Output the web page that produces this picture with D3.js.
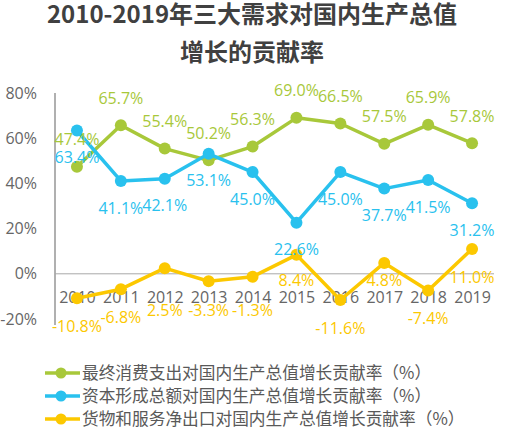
<!DOCTYPE html>
<html>
<head>
<meta charset="utf-8">
<script src="https://cdn.jsdelivr.net/npm/d3@7"></script>
<style>
  body { margin: 0; background: #fff; }
  svg text { font-family: "Open Sans", "Noto Sans CJK SC", sans-serif; }
</style>
</head>
<body>
<div id="container"></div>
<script>
const w = 514;
const h = 429;

// data
let years = ["2010", "2011", "2012", "2013", "2014", "2015", "2016", "2017", "2018", "2019"];
let consumption = [47.4, 65.7, 55.4, 50.2, 56.3, 69.0, 66.5, 57.5, 65.9, 57.8];
let capital = [63.4, 41.1, 42.1, 53.1, 45.0, 22.6, 45.0, 37.7, 41.5, 31.2];
let netExports = [-10.8, -6.8, 2.5, -3.3, -1.3, 8.4, -11.6, 4.8, -7.4, 11.0];
let yTicks = [-20, 0, 20, 40, 60, 80];

let seriesNames = [
  "最终消费支出对国内生产总值增长贡献率（%）",
  "资本形成总额对国内生产总值增长贡献率（%）",
  "货物和服务净出口对国内生产总值增长贡献率（%）"
];
let seriesColors = ["#a8c83a", "#29c1ee", "#fcc800"];

let series = [
  { name: seriesNames[0], values: consumption, color: seriesColors[0], labelDy: -27 },
  { name: seriesNames[1], values: capital, color: seriesColors[1], labelDy: 27 },
  { name: seriesNames[2], values: netExports, color: seriesColors[2], labelDy: 28 }
];

let viz = d3.select("#container").append("svg").attr("width", w).attr("height", h);

// title
let title = viz.append("g").attr("font-weight", "bold").attr("fill", "#404040")
  .attr("text-anchor", "middle").style("font-size", "24px");
title.append("text").attr("x", 252).attr("y", 15).attr("dy", "0.35em")
  .style("font-family", "'Noto Sans CJK SC', sans-serif")
  .text("2010-2019年三大需求对国内生产总值");
title.append("text").attr("x", 252).attr("y", 53).attr("dy", "0.35em")
  .style("font-family", "'Noto Sans CJK SC', sans-serif")
  .text("增长的贡献率");

// scales
let xScale = d3.scalePoint().domain(years).range([55, 494]).padding(0.5);
let yScale = d3.scaleLinear().domain([-20, 80]).range([319, 93]);

// y axis
let yAxis = d3.axisLeft(yScale).tickValues(yTicks).tickSize(0).tickPadding(18)
  .tickFormat(function(d){ return d + "%"; });
let yAxisGroup = viz.append("g").attr("class", "yaxis")
  .attr("transform", "translate(55,0)").call(yAxis);
yAxisGroup.select(".domain").remove();
yAxisGroup.selectAll("text").attr("fill", "#666").style("font-size", "16px");
viz.append("line").attr("x1", 55).attr("x2", 55)
  .attr("y1", yScale(80)).attr("y2", yScale(-20) + 6)
  .attr("stroke", "#b0b0b0").attr("stroke-width", 2);

// zero line
viz.append("line").attr("x1", 55).attr("x2", 494)
  .attr("y1", yScale(0)).attr("y2", yScale(0))
  .attr("stroke", "#a8a8a8").attr("stroke-width", 1);

// x axis labels
let xLabelY = yScale(0) + 24;
let xAxis = d3.axisBottom(xScale).tickSize(0).tickPadding(0);
let xAxisGroup = viz.append("g").attr("class", "xaxis")
  .attr("transform", "translate(0," + xLabelY + ")").call(xAxis);
xAxisGroup.select(".domain").remove();
xAxisGroup.selectAll("text").attr("dy", "0.35em").attr("fill", "#666").style("font-size", "16px");

// lines and points
let line = d3.line()
  .x(function(d, i){ return xScale(years[i]); })
  .y(function(d){ return yScale(d); });

series.forEach(function(s){
  viz.append("path").datum(s.values)
    .attr("d", line).attr("fill", "none")
    .attr("stroke", s.color).attr("stroke-width", 3.5)
    .attr("stroke-linejoin", "round");

  viz.selectAll(null).data(s.values).enter().append("circle")
    .attr("cx", function(d, i){ return xScale(years[i]); })
    .attr("cy", function(d){ return yScale(d); })
    .attr("r", 6).attr("fill", s.color);
});

// value labels, drawn after the lines; below-labels are moved off the year labels
let slotAbove = xLabelY - 17;
let slotBelow = xLabelY + 13;
function labelY(d, s){
  let y = yScale(d) + s.labelDy;
  if (s.labelDy > 0 && y > slotAbove && y < slotBelow) {
    y = (y < xLabelY - 4) ? slotAbove : slotBelow;
  }
  return y;
}

series.forEach(function(s){
  viz.selectAll(null).data(s.values).enter().append("text")
    .attr("x", function(d, i){ return xScale(years[i]); })
    .attr("y", function(d){ return labelY(d, s); })
    .attr("dy", "0.35em")
    .attr("text-anchor", "middle")
    .attr("fill", s.color)
    .style("font-size", "16px")
    .text(function(d){ return d.toFixed(1) + "%"; });
});

// legend
let legend = viz.append("g").attr("class", "legend");
series.forEach(function(s, i){
  let y = 373 + i * 23;
  legend.append("line").attr("x1", 45).attr("x2", 80).attr("y1", y).attr("y2", y)
    .attr("stroke", s.color).attr("stroke-width", 3.5);
  legend.append("circle").attr("cx", 61).attr("cy", y).attr("r", 5.5).attr("fill", s.color);
  legend.append("text").attr("x", 82).attr("y", y).attr("dy", "0.35em")
    .attr("fill", "#595959").style("font-size", "16.7px")
    .style("font-family", "'Noto Sans CJK SC', sans-serif")
    .text(s.name);
});
</script>
</body>
</html>
